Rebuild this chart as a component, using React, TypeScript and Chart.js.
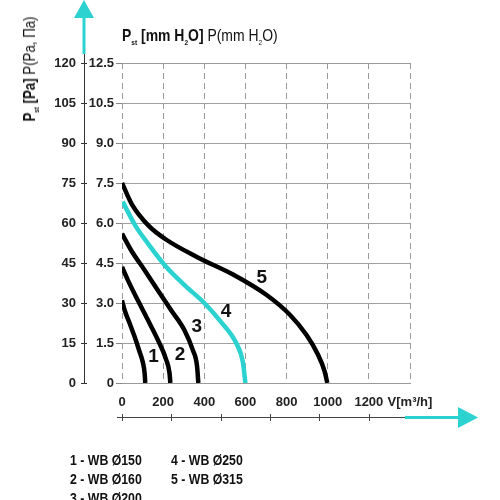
import { useEffect, useRef } from 'react';
import { Chart, registerables } from 'chart.js';

Chart.register(...registerables);

const FONT = '"Liberation Sans", Arimo, Arial, sans-serif';
const CYAN = '#2bd2d0';

// axis ticks
const flowTicks = [0, 200, 400, 600, 800, 1000, 1200, 1400];
const lowerFlowTicks = [0, 240, 480, 720, 960, 1200];
const paTicks = [0, 15, 30, 45, 60, 75, 90, 105, 120];
const mmLabels = ['0', '1.5', '3.0', '4.5', '6.0', '7.5', '9.0', '10.5', '12.5'];

// curves: V [m3/h] vs Pst [Pa]
const flow1 = [0, 13, 37, 61, 85, 102, 110, 113];
const pres1 = [31, 27.3, 22.4, 17.4, 11.8, 7.5, 3.7, 0];
const flow2 = [0, 29, 77, 126, 174, 215, 231, 235];
const pres2 = [43.5, 38.5, 31, 23.6, 16.2, 8.7, 3.7, 0];
const flow3 = [0, 45, 110, 174, 239, 303, 344, 365, 371];
const pres3 = [56, 49.7, 42.3, 34.8, 27.3, 19.9, 12.4, 6.2, 0];
const flow4 = [3, 65, 129, 210, 300, 400, 480, 555, 587, 600];
const pres4 = [68, 59, 52, 44, 37, 30, 23, 15, 8, 0];
const flow5 = [0, 48, 129, 210, 371, 542, 703, 816, 897, 953, 985, 998];
const pres5 = [75, 67, 59, 54, 47, 40.6, 33, 25.6, 18, 10.6, 4.4, 0];

const curveNames = ['1', '2', '3', '4', '5'];
const labelFlow = [153, 282, 363, 506, 679];
const labelPres = [10, 10.6, 21, 26.9, 39.4];

const legendLeft = ['1 - WB Ø150', '2 - WB Ø160', '3 - WB Ø200'];
const legendRight = ['4 - WB Ø250', '5 - WB Ø315'];

const toPoints = (xs: number[], ys: number[]) => xs.map((x, i) => ({ x, y: ys[i] }));

const decor = {
  id: 'decor',
  afterDraw(chart: Chart) {
    const { ctx } = chart;
    const x = chart.scales.x;
    const y = chart.scales.y;
    const yPa = chart.scales.yPa;
    ctx.save();

    // vertical arrow on the Pa axis
    const ax = yPa.right;
    ctx.strokeStyle = '#333';
    ctx.lineWidth = 1;
    ctx.beginPath();
    ctx.moveTo(ax + 0.5, yPa.top - 10);
    ctx.lineTo(ax + 0.5, yPa.top);
    paTicks.forEach((v) => {
      const py = Math.round(yPa.getPixelForValue(v)) + 0.5;
      ctx.moveTo(ax, py);
      ctx.lineTo(ax + 3, py);
    });
    ctx.stroke();
    ctx.strokeStyle = CYAN;
    ctx.lineWidth = 3;
    ctx.beginPath();
    ctx.moveTo(ax, yPa.top - 9);
    ctx.lineTo(ax, 15);
    ctx.stroke();
    ctx.fillStyle = CYAN;
    ctx.beginPath();
    ctx.moveTo(ax - 10, 18);
    ctx.lineTo(ax + 10, 18);
    ctx.lineTo(ax, 0);
    ctx.closePath();
    ctx.fill();

    // lower flow axis
    const ly = x.bottom - 83;
    ctx.strokeStyle = '#444';
    ctx.lineWidth = 1;
    ctx.beginPath();
    ctx.moveTo(x.left - 5, ly + 0.5);
    ctx.lineTo(x.right - 5, ly + 0.5);
    lowerFlowTicks.forEach((v) => {
      const px = Math.round(x.getPixelForValue(v)) + 0.5;
      ctx.moveTo(px, ly - 3);
      ctx.lineTo(px, ly + 4);
    });
    ctx.stroke();
    ctx.strokeStyle = CYAN;
    ctx.lineWidth = 3;
    ctx.beginPath();
    ctx.moveTo(x.right - 5, ly + 0.5);
    ctx.lineTo(x.right + 52, ly + 0.5);
    ctx.stroke();
    ctx.fillStyle = CYAN;
    ctx.beginPath();
    ctx.moveTo(x.right + 48, ly - 10);
    ctx.lineTo(x.right + 48, ly + 11);
    ctx.lineTo(x.right + 68, ly + 0.5);
    ctx.closePath();
    ctx.fill();

    // curve numbers
    ctx.fillStyle = '#111';
    ctx.font = `bold 19px ${FONT}`;
    ctx.textAlign = 'center';
    ctx.textBaseline = 'middle';
    curveNames.forEach((n, i) => {
      ctx.fillText(n, x.getPixelForValue(labelFlow[i]), y.getPixelForValue(labelPres[i]));
    });
    ctx.restore();
  },
};

function FanChart() {
  const canvasRef = useRef<HTMLCanvasElement>(null);
  const chartRef = useRef<Chart | null>(null);

  useEffect(() => {
    if (!canvasRef.current) return;
    if (chartRef.current) chartRef.current.destroy();

    const tickFont = { family: FONT, size: 13, weight: 'bold' as const };
    const curve = (xs: number[], ys: number[], color: string) => ({
      data: toPoints(xs, ys),
      borderColor: color,
      borderWidth: 4.5,
      pointRadius: 0,
      showLine: true,
      cubicInterpolationMode: 'monotone' as const,
      fill: false,
      xAxisID: 'x',
      yAxisID: 'y',
    });

    chartRef.current = new Chart(canvasRef.current, {
      type: 'scatter',
      data: {
        datasets: [
          curve(flow1, pres1, '#000'),
          curve(flow2, pres2, '#000'),
          curve(flow3, pres3, '#000'),
          curve(flow5, pres5, '#000'),
          curve(flow4, pres4, CYAN),
        ],
      },
      options: {
        animation: false,
        responsive: false,
        devicePixelRatio: 1,
        layout: { padding: { left: 0, top: 63, right: 90, bottom: 0 } },
        plugins: { legend: { display: false }, tooltip: { enabled: false } },
        scales: {
          x: {
            type: 'linear',
            position: 'bottom',
            min: 0,
            max: 1400,
            afterBuildTicks: (s: any) => {
              s.ticks = flowTicks.map((value) => ({ value }));
            },
            afterFit: (s: any) => {
              s.height = 117;
            },
            ticks: {
              padding: 12,
              color: '#222',
              font: tickFont,
              maxRotation: 0,
              autoSkip: false,
              callback: (v: any) => (v === 1400 ? 'V[m³/h]' : String(v)),
            },
            grid: { color: '#9a9a9a', drawTicks: false },
            border: { color: '#9a9a9a', dash: [6, 4] },
          },
          x2: {
            type: 'linear',
            position: 'top',
            min: 0,
            max: 1400,
            afterFit: (s: any) => {
              s.height = 0;
            },
            ticks: { display: false },
            grid: { display: false },
            border: { color: '#9a9a9a', dash: [6, 4] },
          },
          yPa: {
            type: 'linear',
            position: 'left',
            weight: 1,
            min: 0,
            max: 120,
            afterBuildTicks: (s: any) => {
              s.ticks = paTicks.map((value) => ({ value }));
            },
            afterFit: (s: any) => {
              s.width = 84;
            },
            ticks: { padding: 5, color: '#222', font: tickFont, autoSkip: false },
            grid: { drawOnChartArea: false, tickLength: 3, tickColor: '#333' },
            border: { color: '#333' },
          },
          y: {
            type: 'linear',
            position: 'left',
            weight: 0,
            min: 0,
            max: 120,
            afterBuildTicks: (s: any) => {
              s.ticks = paTicks.map((value) => ({ value }));
            },
            afterFit: (s: any) => {
              s.width = 38;
            },
            ticks: {
              padding: 2,
              color: '#222',
              font: tickFont,
              autoSkip: false,
              callback: (_v: any, i: number) => mmLabels[i],
            },
            grid: {
              color: (c: any) => (c.tick && (c.tick.value === 0 || c.tick.value === 120) ? 'rgba(0,0,0,0)' : '#a0a0a0'),
              tickColor: '#888',
              tickLength: 6,
            },
            border: { display: false },
          },
        },
      },
      plugins: [decor],
    });

    return () => {
      chartRef.current?.destroy();
      chartRef.current = null;
    };
  }, []);

  return <canvas ref={canvasRef} width={500} height={500} role="img" aria-label="Fan pressure curves" />;
}

export default function App() {
  const sub = { fontSize: 8, verticalAlign: 'sub' as const, lineHeight: 0 };
  const narrow = (origin: string) => ({ transform: 'scaleX(0.82)', transformOrigin: origin });
  return (
    <div style={{ position: 'fixed', left: 0, top: 0, width: 500, height: 500, background: '#fff', fontFamily: FONT, color: '#111' }}>
      <FanChart />
      <div
        style={{
          position: 'absolute',
          left: 122,
          top: 26,
          fontSize: 17,
          fontWeight: 'bold',
          whiteSpace: 'nowrap',
          ...narrow('left center'),
        }}
      >
        P<span style={sub}>st</span> [mm H<span style={sub}>2</span>O]{' '}
        <span style={{ fontWeight: 'normal' }}>
          P(mm H<span style={sub}>2</span>O)
        </span>
      </div>
      <div
        style={{
          position: 'absolute',
          left: 30,
          top: 69,
          transform: 'translate(-50%, -50%) rotate(-90deg) scaleX(0.78)',
          fontSize: 17,
          fontWeight: 'bold',
          whiteSpace: 'nowrap',
        }}
      >
        P<span style={sub}>st</span> [Pa] <span style={{ fontWeight: 'normal' }}>P(Pa, Па)</span>
      </div>
      <div style={{ position: 'absolute', left: 70, top: 450, fontSize: 15, fontWeight: 'bold', lineHeight: '19px', whiteSpace: 'nowrap', ...narrow('left top') }}>
        {legendLeft.map((t) => (
          <div key={t}>{t}</div>
        ))}
      </div>
      <div style={{ position: 'absolute', left: 171, top: 450, fontSize: 15, fontWeight: 'bold', lineHeight: '19px', whiteSpace: 'nowrap', ...narrow('left top') }}>
        {legendRight.map((t) => (
          <div key={t}>{t}</div>
        ))}
      </div>
    </div>
  );
}
